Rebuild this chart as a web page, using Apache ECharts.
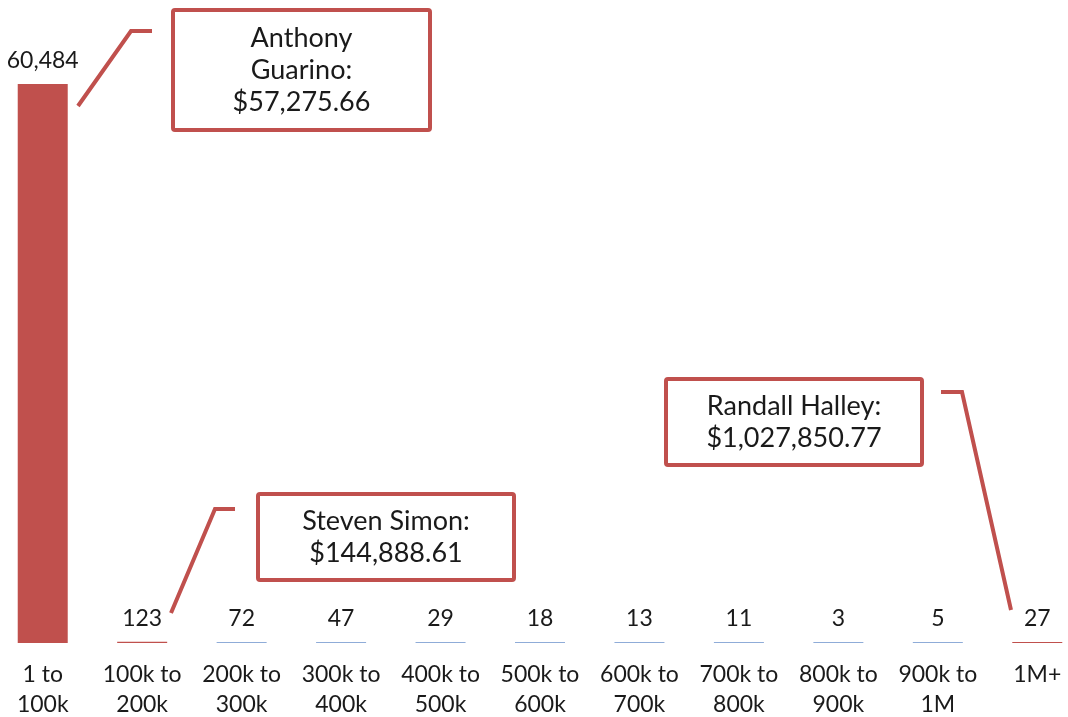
<!DOCTYPE html>
<html>
<head>
<meta charset="utf-8">
<script src="https://cdn.jsdelivr.net/npm/echarts@6/dist/echarts.min.js"></script>
<style>
  html, body { margin: 0; padding: 0; background: #fff; }
  #chart { width: 1068px; height: 717px; }
</style>
</head>
<body>
<div id="chart"></div>
<script>
// donation size buckets and number of donors in each
const categories = ['1 to\n100k', '100k to\n200k', '200k to\n300k', '300k to\n400k', '400k to\n500k',
  '500k to\n600k', '600k to\n700k', '700k to\n800k', '800k to\n900k', '900k to\n1M', '1M+']
const counts = [60484, 123, 72, 47, 29, 18, 13, 11, 3, 5, 27]
// buckets that have a callout
const highlighted = [0, 1, 10]
const callouts = ['Anthony\nGuarino:\n$57,275.66', 'Steven Simon:\n$144,888.61', 'Randall Halley:\n$1,027,850.77']

const RED = '#C0504D'
const BLUE = '#8FACD8'
const FONT = 'Lato'

const chart = echarts.init(document.getElementById('chart'))

function calloutBox(x, y, w, h, text) {
  return {
    type: 'group',
    left: x,
    top: y,
    children: [
      {
        type: 'rect',
        shape: { x: 0, y: 0, width: w, height: h, r: 2 },
        style: { fill: '#fff', stroke: RED, lineWidth: 4 }
      },
      {
        type: 'text',
        x: w / 2,
        y: h / 2,
        style: {
          text: text,
          fill: '#1a1a1a',
          font: '27px ' + FONT,
          lineHeight: 32,
          align: 'center',
          verticalAlign: 'middle'
        }
      }
    ]
  }
}

function leader(points) {
  return {
    type: 'polyline',
    shape: { points: points },
    style: { stroke: RED, lineWidth: 4, fill: null }
  }
}

chart.setOption({
  animation: false,
  textStyle: { fontFamily: FONT },
  grid: {
    left: -7,
    right: -19,
    top: 84,
    bottom: 74,
    containLabel: false,
    outerBoundsMode: 'none'
  },
  xAxis: {
    type: 'category',
    data: categories,
    axisLine: { show: false },
    axisTick: { show: false },
    axisLabel: {
      interval: 0,
      margin: 17,
      fontSize: 23,
      lineHeight: 30,
      color: '#1a1a1a',
      fontFamily: FONT
    }
  },
  yAxis: {
    type: 'value',
    show: false,
    min: 0,
    max: 'dataMax',
    splitLine: { show: false }
  },
  series: [{
    type: 'bar',
    barWidth: 50,
    barMinHeight: 1,
    data: counts.map((v, i) => ({
      value: v,
      itemStyle: { color: highlighted.indexOf(i) >= 0 ? RED : BLUE }
    })),
    label: {
      show: true,
      position: 'top',
      distance: 12,
      fontSize: 23,
      color: '#1a1a1a',
      fontFamily: FONT,
      formatter: p => p.value.toLocaleString('en-US')
    }
  }],
  graphic: [
    leader([[152, 31], [131, 31], [78, 106]]),
    leader([[235, 509], [215, 509], [171, 613]]),
    leader([[941, 392], [962, 392], [1011, 610]]),
    calloutBox(171, 8, 257, 120, callouts[0]),
    calloutBox(256, 492, 256, 86, callouts[1]),
    calloutBox(664, 377, 256, 86, callouts[2])
  ]
})
</script>
</body>
</html>
